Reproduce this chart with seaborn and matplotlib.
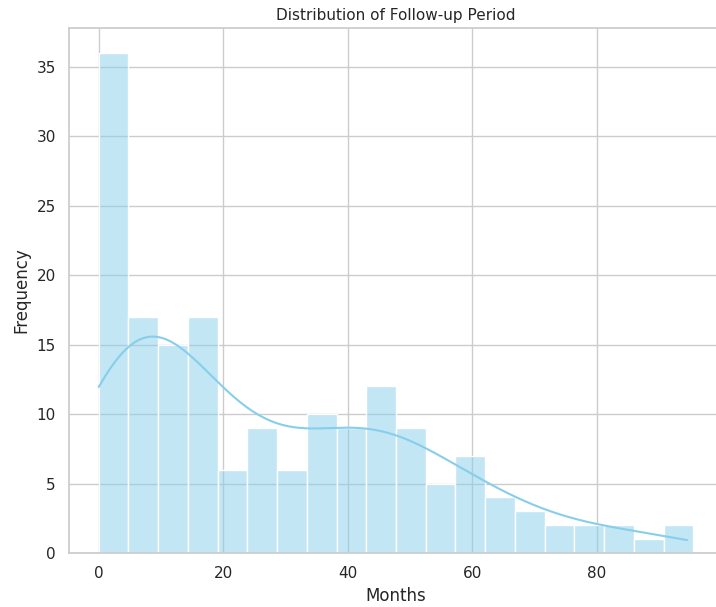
import numpy as np
import pandas as pd
import seaborn as sns
import matplotlib
matplotlib.use("Agg")
import matplotlib.pyplot as plt

# Follow-up period histogram: 20 equal bins spanning 0 to ~95.5 months
bin_start = 0.0
bin_end = 95.5
n_bins = 20
counts = [36, 17, 15, 17, 6, 9, 6, 10, 9, 12, 9, 5, 7, 4, 3, 2, 2, 2, 1, 2]
x_ticks = [0, 20, 40, 60, 80]

edges = np.linspace(bin_start, bin_end, n_bins + 1)
centers = (edges[:-1] + edges[1:]) / 2
df = pd.DataFrame({"Months": centers, "Count": counts})

sns.set_theme(style="whitegrid")
fig = plt.figure(figsize=(7.16, 6.07), dpi=100)
ax = fig.add_axes([69 / 716, 1 - 553 / 607, 654 / 716, 525 / 607])

sns.histplot(
    data=df, x="Months", weights="Count",
    bins=n_bins, binrange=(bin_start, bin_end),
    kde=True, color="skyblue",
    kde_kws={"cut": 3, "clip": (0.0, 94.5), "bw_adjust": 0.6},
    ax=ax,
)

ax.set_xticks(x_ticks)
ax.set_title("Distribution of Follow-up Period", fontsize=11)
ax.set_xlabel("Months")
ax.set_ylabel("Frequency")

fig.savefig("out.png", dpi=100)
